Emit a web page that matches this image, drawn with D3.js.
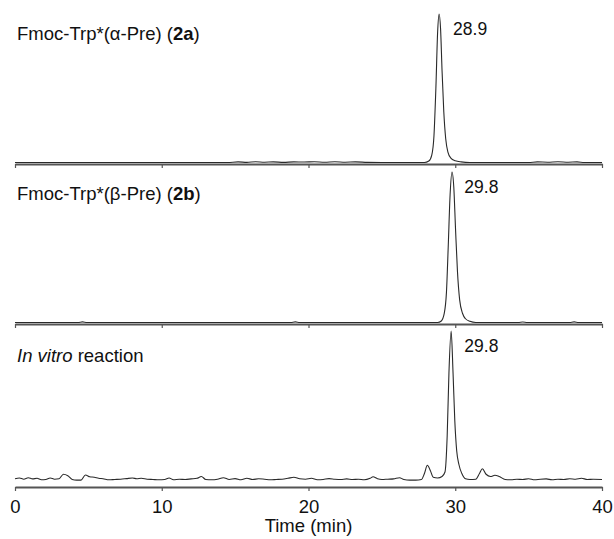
<!DOCTYPE html>
<html>
<head>
<meta charset="utf-8">
<script src="https://cdn.jsdelivr.net/npm/d3@7"></script>
<style>
  body { margin: 0; background: #fff; }
  svg text { font-family: "Liberation Sans", Arial, sans-serif; fill: #111; }
</style>
</head>
<body>
<div id="chart"></div>
<script>
// x axis
var timeTicks = [0, 10, 20, 30, 40];
var xLabel = "Time (min)";
var peakLabels = ["28.9", "29.8", "29.8"];
var peakTimes = [28.9, 29.8, 29.8];

// chromatograms, [time (min), relative absorbance]
var traceAlpha = [[0,0],[14.5,0],[15.2,0.004],[15.8,0.001],[16.4,0.005],[17.0,0.002],[17.6,0.004],[18.3,0.001],[19.0,0.004],[19.7,0.003],[20.4,0.005],[21.1,0.002],[21.8,0.005],[22.5,0.002],[23.2,0.004],[24.0,0.001],[25,0],[27.9,0],[28.2,0.01],[28.4,0.05],[28.55,0.18],[28.68,0.5],[28.8,0.88],[28.9,1.0],[29.0,0.9],[29.1,0.62],[29.22,0.34],[29.35,0.16],[29.5,0.07],[29.7,0.03],[30.0,0.012],[30.4,0.004],[31,0],[35,0],[35.6,0.004],[36.3,0.002],[37,0.005],[37.7,0.002],[38.3,0.004],[38.8,0],[40,0]];

var traceBeta = [[0,0],[4.3,0],[4.6,0.004],[4.9,0],[18.8,0],[19.1,0.004],[19.4,0],[28.8,0],[29.05,0.01],[29.25,0.06],[29.4,0.2],[29.52,0.5],[29.65,0.85],[29.78,1.0],[29.9,0.9],[30.02,0.62],[30.15,0.34],[30.3,0.15],[30.5,0.06],[30.7,0.025],[31.0,0.008],[31.4,0],[34.3,0],[34.6,0.003],[34.9,0],[37.8,0],[38.1,0.004],[38.4,0],[40,0]];

var traceReaction = [[0,0.015],[0.3,0.02],[0.6,0.012],[0.9,0.022],[1.2,0.014],[1.5,0.018],[1.8,0.008],[2.1,0.01],[2.4,0.02],[2.7,0.012],[3.0,0.015],[3.3,0.045],[3.6,0.035],[3.9,0.01],[4.2,0.006],[4.5,0.006],[4.8,0.04],[5.1,0.028],[5.4,0.025],[5.7,0.018],[6.0,0.015],[6.4,0.008],[6.8,0.01],[7.2,0.012],[7.6,0.016],[8.0,0.02],[8.3,0.015],[8.6,0.018],[9.0,0.012],[9.4,0.01],[9.8,0.008],[10.2,0.01],[10.5,0.02],[10.8,0.008],[11.2,0.012],[11.6,0.01],[12.0,0.014],[12.4,0.018],[12.7,0.03],[13.0,0.01],[13.4,0.008],[13.8,0.012],[14.2,0.022],[14.6,0.01],[15.0,0.016],[15.4,0.008],[15.8,0.018],[16.2,0.01],[16.6,0.015],[17.0,0.012],[17.4,0.008],[17.8,0.01],[18.2,0.012],[18.6,0.018],[19.0,0.025],[19.4,0.015],[19.8,0.012],[20.2,0.018],[20.6,0.008],[21.0,0.01],[21.4,0.016],[21.8,0.012],[22.2,0.01],[22.6,0.014],[23.0,0.01],[23.4,0.012],[23.8,0.008],[24.2,0.018],[24.4,0.028],[24.7,0.015],[25.0,0.01],[25.4,0.012],[25.8,0.014],[26.2,0.022],[26.5,0.01],[26.9,0.006],[27.3,0.006],[27.7,0.01],[27.9,0.05],[28.1,0.105],[28.3,0.07],[28.5,0.025],[28.8,0.02],[29.1,0.03],[29.3,0.06],[29.45,0.3],[29.57,0.72],[29.72,1.0],[29.85,0.72],[29.97,0.4],[30.1,0.2],[30.25,0.11],[30.45,0.05],[30.7,0.015],[31.0,0.01],[31.4,0.012],[31.65,0.05],[31.85,0.082],[32.1,0.045],[32.4,0.03],[32.7,0.038],[33.0,0.03],[33.4,0.01],[33.8,0.008],[34.2,0.012],[34.6,0.01],[35.0,0.015],[35.4,0.008],[35.8,0.012],[36.2,0.014],[36.6,0.008],[37.0,0.012],[37.4,0.01],[37.8,0.015],[38.2,0.012],[38.6,0.018],[39.0,0.01],[39.4,0.012],[40,0.01]];

var width = 614, height = 539;
var svg = d3.select("#chart").append("svg").attr("width", width).attr("height", height);

var x = d3.scaleLinear().domain([0, 40]).range([15, 602]);

// panel layout: axis line y, trace baseline y, peak top y
var panels = [
    { data: traceAlpha, axisY: 164, base: 162.5, top: 14, labelY: 40 },
    { data: traceBeta, axisY: 324, base: 322.5, top: 172, labelY: 200 },
    { data: traceReaction, axisY: 487, base: 481, top: 331, labelY: 362 }
];

panels.forEach(function(p, i) {
    var y = d3.scaleLinear().domain([0, 1]).range([p.base, p.top]);
    var g = svg.append("g");

    // axis with downward ticks
    var axis = d3.axisBottom(x).tickValues(timeTicks).tickSize(4).tickSizeOuter(0).tickFormat(i == 2 ? d3.format("d") : "");
    var ax = g.append("g").attr("transform", "translate(0," + p.axisY + ")").call(axis);
    ax.select(".domain").attr("stroke", "#555").attr("stroke-width", 2);
    ax.selectAll(".tick line").attr("stroke", "#555").attr("stroke-width", 1.2);
    ax.selectAll(".tick text").attr("font-size", 18.5).attr("fill", "#111").attr("dy", 0).attr("y", 26)
        .style("font-family", "'Liberation Sans', Arial, sans-serif");

    var line = d3.line()
        .x(function(d) { return x(d[0]); })
        .y(function(d) { return y(d[1]); })
        .curve(d3.curveMonotoneX);
    g.append("path").datum(p.data).attr("d", line)
        .attr("fill", "none").attr("stroke", "#2a2a2a").attr("stroke-width", 1.1);

    // peak label
    g.append("text").attr("x", x(peakTimes[i]) + (i == 0 ? 14 : 12)).attr("y", y(1) + 21)
        .attr("font-size", 17.5).text(peakLabels[i]);
});

// panel titles
var t1 = svg.append("text").attr("x", 17).attr("y", panels[0].labelY).attr("font-size", 18.5);
t1.append("tspan").text("Fmoc-Trp*(\u03B1-Pre) (");
t1.append("tspan").attr("font-weight", "bold").text("2a");
t1.append("tspan").text(")");

var t2 = svg.append("text").attr("x", 17).attr("y", panels[1].labelY).attr("font-size", 18.5);
t2.append("tspan").text("Fmoc-Trp*(\u03B2-Pre) (");
t2.append("tspan").attr("font-weight", "bold").text("2b");
t2.append("tspan").text(")");

var t3 = svg.append("text").attr("x", 17).attr("y", panels[2].labelY).attr("font-size", 18.5);
t3.append("tspan").attr("font-style", "italic").text("In vitro");
t3.append("tspan").text(" reaction");

svg.append("text").attr("x", x(20)).attr("y", 532).attr("text-anchor", "middle")
    .attr("font-size", 18.5).text(xLabel);
</script>
</body>
</html>
